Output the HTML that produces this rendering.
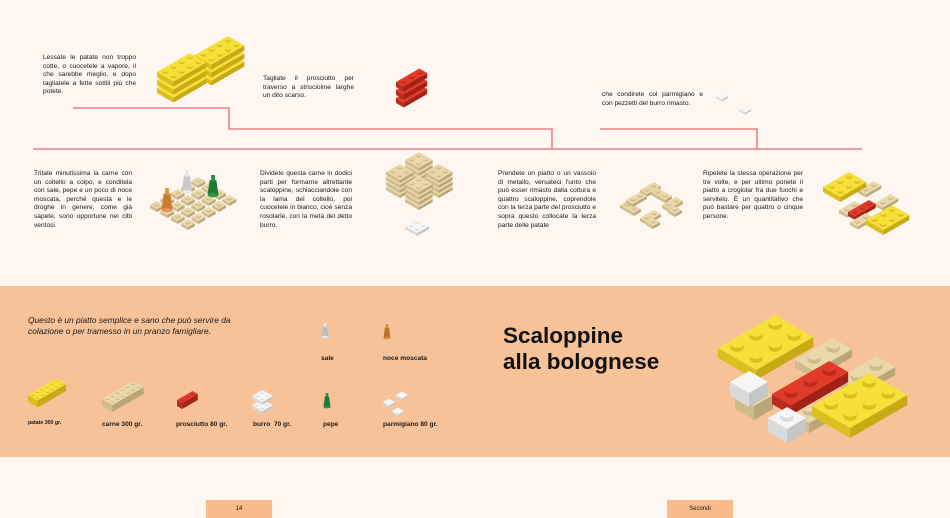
<!DOCTYPE html>
<html><head><meta charset="utf-8">
<style>
html,body{margin:0;padding:0}
body{width:950px;height:518px;position:relative;overflow:hidden;background:#fdf6f1;font-family:"Liberation Sans",sans-serif;color:#1a1a1a}
.t{position:absolute;font-size:6.6px;line-height:8.6px;text-align:justify}
.band{position:absolute;left:0;top:286px;width:950px;height:171px;background:#f8c298}
.lab{position:absolute;font-size:6.6px;font-weight:bold}
.pg{position:absolute;top:500px;height:18px;width:66px;background:#f8bb8c;font-size:6px;text-align:center;line-height:18px}
svg{position:absolute;left:0;top:0}
</style></head><body>
<div class="band"></div>
<div class="t" style="left:43px;top:54px;width:93px">Lessate le patate non troppo cotte, o cuocetele a vapore, il che sarebbe meglio, e dopo tagliatele a fette sottili più che potete.</div>
<div class="t" style="left:263px;top:75px;width:91px">Tagliate il prosciutto per traverso a striscioline larghe un dito scarso.</div>
<div class="t" style="left:602px;top:91px;width:101px">che condirete col parmigiano e con pezzetti del burro rimasto.</div>
<div class="t" style="left:34px;top:170px;width:98px">Tritate minutissima la carne con un coltello a colpo, e conditela con sale, pepe e un poco di noce moscata, perché questa e le droghe in genere, come già sapete, sono opportune nei cibi ventosi.</div>
<div class="t" style="left:260px;top:170px;width:92px">Dividete questa carne in dodici parti per formarne altrettante scaloppine, schiacciandole con la lama del coltello, poi cuocetele in bianco, cioè senza rosolarle, con la metà del detto burro.</div>
<div class="t" style="left:498px;top:170px;width:98px">Prendete un piatto o un vassoio di metallo, versateci l'unto che può esser rimasto dalla cottura e quattro scaloppine, coprendole con la terza parte del prosciutto e sopra questo collocate la terza parte delle patate</div>
<div class="t" style="left:703px;top:170px;width:100px">Ripetete la stessa operazione per tre volte, e per ultimo ponete il piatto a crogiolar fra due fuochi e servitelo. È un quantitativo che può bastare per quattro o cinque persone.</div>
<div style="position:absolute;left:28px;top:315px;font-size:8.4px;line-height:10.5px;font-style:italic">Questo è un piatto semplice e sano che può servire da<br>colazione o per tramesso in un pranzo famigliare.</div>
<div style="position:absolute;left:503px;top:323px;font-size:22.5px;line-height:26px;font-weight:bold;color:#111">Scaloppine<br>alla bolognese</div>
<div class="lab" style="left:28px;top:420px;font-size:5.2px">patate 300 gr.</div>
<div class="lab" style="left:102px;top:421px">carne 300 gr.</div>
<div class="lab" style="left:176px;top:421px">prosciutto 80 gr.</div>
<div class="lab" style="left:253px;top:421px">burro&nbsp; 70 gr.</div>
<div class="lab" style="left:323px;top:421px">pepe</div>
<div class="lab" style="left:383px;top:421px">parmigiano 80 gr.</div>
<div class="lab" style="left:321px;top:355px">sale</div>
<div class="lab" style="left:383px;top:355px">noce moscata</div>
<div class="pg" style="left:206px">14</div>
<div class="pg" style="left:667px">Secondi</div>
<svg id="s" width="950" height="518" xmlns="http://www.w3.org/2000/svg">
<g stroke="#e8676a" stroke-width="1.3" fill="none">
<polyline points="73,108 229,108 229,129 552,129 552,149"/>
<polyline points="600,129 757,129 757,149"/>
<line x1="33" y1="149" x2="862" y2="149"/>
</g>
</svg>
<script>
var s=document.getElementById('s'),NS='http://www.w3.org/2000/svg',out='';
var C={y:['#f7e03a','#dcbf1e','#c8aa14'],t:['#ead8aa','#cfbb8c','#bba678'],r:['#e23a2a','#b92b1e','#a22216'],w:['#f6f6f6','#dadada','#c6c6c6']};
function poly(p,f){out+='<polygon points="'+p.map(function(q){return q[0].toFixed(1)+','+q[1].toFixed(1)}).join(' ')+'" fill="'+f+'"/>';}
function P(x,y,a,b,u,h,c,st){c=C[c];var Ax=u*.866,Ay=-u*.5,Bx=u*.866,By=u*.5;
var O=[x,y],Pa=[x+a*Ax,y+a*Ay],Pab=[x+a*Ax+b*Bx,y+a*Ay+b*By],Pb=[x+b*Bx,y+b*By];
poly([O,Pb,[Pb[0],Pb[1]+h],[x,y+h]],c[1]);poly([Pb,Pab,[Pab[0],Pab[1]+h],[Pb[0],Pb[1]+h]],c[2]);poly([O,Pa,Pab,Pb],c[0]);
if(st!==false)for(var i=0;i<a;i++)for(var j=0;j<b;j++){var cx=x+(i+.5)*Ax+(j+.5)*Bx,cy=y+(i+.5)*Ay+(j+.5)*By,rx=u*.3,ry=u*.17,hh=u*.18;
out+='<rect x="'+(cx-rx)+'" y="'+(cy-hh)+'" width="'+2*rx+'" height="'+hh+'" fill="'+c[1]+'"/><ellipse cx="'+cx+'" cy="'+(cy)+'" rx="'+rx+'" ry="'+ry+'" fill="'+c[1]+'"/><ellipse cx="'+cx+'" cy="'+(cy-hh)+'" rx="'+rx+'" ry="'+ry+'" fill="'+c[0]+'"/>';}}
function cone(x,y,w,h,c1,c2){out+='<polygon points="'+(x-w/2)+','+(y)+' '+(x+w/2)+','+y+' '+(x+w*.3)+','+(y-h*.75)+' '+(x-w*.3)+','+(y-h*.75)+'" fill="'+c1+'"/><rect x="'+(x-w*.18)+'" y="'+(y-h)+'" width="'+w*.36+'" height="'+h*.3+'" fill="'+c2+'"/><ellipse cx="'+x+'" cy="'+y+'" rx="'+w/2+'" ry="'+w*.2+'" fill="'+c2+'"/>';}
// potatoes
[71,63,55].forEach(function(y){P(195,y,4,2,9.5,5,'y')});
[88,80,72].forEach(function(y){P(157,y,4,2,9.5,5,'y')});
// prosciutto
[98,90,82].forEach(function(y){P(396,y,3,1,9,5,'r')});
// parmigiano small
P(716,96,1,1,7,2,'w',false);P(739,109,1,1,7,2,'w',false);
// grid with cones
for(var j=0;j<4;j++)for(var i=4;i>=0;i--){P(150+i*1.5*6.9+j*1.5*6.9,205-i*1.5*4+j*1.5*4,1,1,8,3,'t');}
cone(213,195,11,20,'#1f7a35','#2e9445');cone(187,192,10,22,'#c9c9c9','#e8e8e8');cone(167,210,11,22,'#cc7a2c','#e0954a');
// tan stacks
[[405,160],[386,172],[425,172],[405,184]].forEach(function(o){for(var k=3;k>=0;k--)P(o[0],o[1]+k*5,2,2,8,3,'t');});
P(405,226,2,2,7,3,'w');
// T pieces
P(640,190,2,1,8,3,'t');P(651,192,1,2,8,3,'t');
P(620,205,1,2,8,3,'t');P(626,200,2,1,8,3,'t');
P(662,205,2,1,8,3,'t');P(668,210,1,1,8,3,'t');
P(640,218,2,1,8,3,'t');P(646,222,1,1,8,3,'t');
// composite small
P(858,190,2,1,9,3,'t');P(875,203,2,1,9,3,'t');P(839,210,2,1,9,3,'t');
P(823,187,3,2,10,5,'y');P(848,212,3,1,8,4,'r');P(850,222,2,1,9,3,'t');P(866,220,3,2,10,5,'y');
// bottom ingredients
P(28,395,6,2,5.5,7,'y');P(102,399,6,2,6,7,'t');P(177,400,3,1,6,6,'r');
P(252,405,2,2,6,3,'w');P(252,396,2,2,6,3,'w');
cone(325,337,7,14,'#bdbdbd','#e6e6e6');cone(387,338,7,14,'#c07228','#d98d44');cone(327,407,7,14,'#1e7a34','#2c9142');
P(383,402,1,1,7,2,'w',false);P(396,395,1,1,7,2,'w',false);P(392,411,1,1,7,2,'w',false);
// big composite
P(795,360,2,1,22,8,'t');P(838,378,2,1,22,8,'t');P(735,395,1,1,22,14,'t');P(790,412,1,1,22,10,'t');
P(718,348,3,2,22,10,'y');
P(772,394,3,1,22,10,'r');
P(730,382,1,1,22,14,'w',false);
P(768,418,1,1,22,14,'w');
P(812,406,3,2,22,10,'y');
s.insertAdjacentHTML('beforeend',out);
</script>
</body></html>
